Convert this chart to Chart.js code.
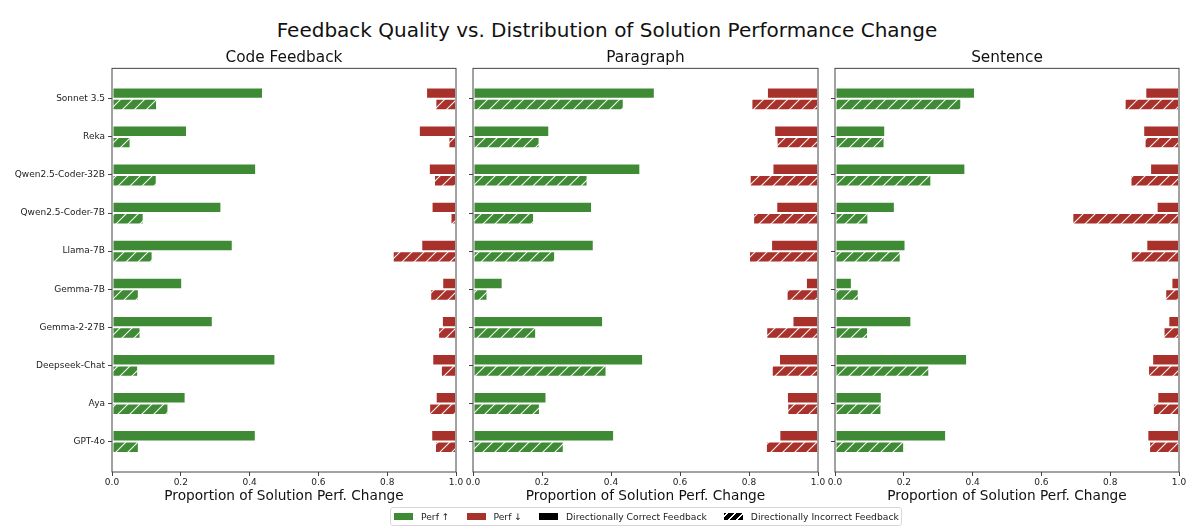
<!DOCTYPE html>
<html>
<head>
<meta charset="utf-8">
<script src="https://cdn.jsdelivr.net/npm/chart.js@4.4.1/dist/chart.umd.min.js"></script>
<style>
  body { margin: 0; background: #fff; font-family: "DejaVu Sans", sans-serif; }
  #wrap { position: relative; width: 1200px; height: 529px; overflow: hidden; }
  #title { position: absolute; left: 7px; top: 17px; width: 1200px; text-align: center; font-size: 20px; line-height: 26px; color: #111; }
  canvas { position: absolute; }
  #legend { position: absolute; left: 390px; top: 507px; width: 512px; height: 19px; border: 1px solid #d8d8d8; border-radius: 3px;
            display: flex; align-items: center; font-size: 9.2px; color: #222; box-sizing: border-box; white-space: nowrap; }
  .sw { display: inline-block; width: 19px; height: 7px; margin: 0 8px 0 0; }
  .item { display: flex; align-items: center; margin-right: 17px; }
</style>
</head>
<body>
<div id="wrap">
  <div id="title">Feedback Quality vs. Distribution of Solution Performance Change</div>
  <canvas id="c1" width="466" height="470" style="left:0px;top:40px"></canvas>
  <canvas id="c2" width="365" height="470" style="left:463px;top:40px"></canvas>
  <canvas id="c3" width="364" height="470" style="left:825px;top:40px"></canvas>
  <div id="legend">
    <span class="item" style="margin-left:3px"><span class="sw" style="background:#3f8a35"></span>Perf ↑</span>
    <span class="item"><span class="sw" style="background:#a8312b"></span>Perf ↓</span>
    <span class="item"><span class="sw" style="background:#000"></span>Directionally Correct Feedback</span>
    <span class="item" style="margin-right:0"><span class="sw" style="background:repeating-linear-gradient(-45deg,#000 0 4px,#fff 4px 5.5px)"></span>Directionally Incorrect Feedback</span>
  </div>
</div>
<script>
const models = ['Sonnet 3.5', 'Reka', 'Qwen2.5-Coder-32B', 'Qwen2.5-Coder-7B', 'Llama-7B',
                'Gemma-7B', 'Gemma-2-27B', 'Deepseek-Chat', 'Aya', 'GPT-4o'];
const xTicks = [0, 0.2, 0.4, 0.6, 0.8, 1.0];

// Code Feedback
const codeUpCorrect     = [0.439, 0.218, 0.419, 0.318, 0.351, 0.204, 0.293, 0.475, 0.214, 0.418];
const codeUpIncorrect   = [0.131, 0.054, 0.130, 0.092, 0.118, 0.078, 0.083, 0.076, 0.164, 0.078];
const codeDownCorrect   = [0.087, 0.108, 0.079, 0.071, 0.101, 0.040, 0.041, 0.069, 0.059, 0.072];
const codeDownIncorrect = [0.060, 0.022, 0.064, 0.016, 0.184, 0.075, 0.052, 0.044, 0.078, 0.061];

// Paragraph
const paraUpCorrect     = [0.527, 0.221, 0.485, 0.345, 0.350, 0.086, 0.377, 0.493, 0.213, 0.409];
const paraUpIncorrect   = [0.437, 0.193, 0.332, 0.177, 0.238, 0.042, 0.183, 0.387, 0.194, 0.263];
const paraDownCorrect   = [0.148, 0.127, 0.132, 0.121, 0.136, 0.035, 0.074, 0.113, 0.090, 0.112];
const paraDownIncorrect = [0.193, 0.120, 0.198, 0.188, 0.200, 0.091, 0.150, 0.134, 0.089, 0.151];

// Sentence
const sentUpCorrect     = [0.407, 0.146, 0.379, 0.174, 0.205, 0.049, 0.222, 0.384, 0.136, 0.323];
const sentUpIncorrect   = [0.367, 0.144, 0.280, 0.097, 0.191, 0.069, 0.096, 0.274, 0.135, 0.201];
const sentDownCorrect   = [0.098, 0.104, 0.084, 0.065, 0.095, 0.022, 0.031, 0.078, 0.063, 0.092];
const sentDownIncorrect = [0.158, 0.100, 0.141, 0.310, 0.140, 0.040, 0.045, 0.090, 0.076, 0.087];

const green = '#3f8a35';
const red = '#a8312b';

function hatch(color) {
    var c = document.createElement('canvas');
    c.width = 12; c.height = 12;
    var g = c.getContext('2d');
    g.fillStyle = color;
    g.fillRect(0, 0, 12, 12);
    g.strokeStyle = 'rgba(255,255,255,0.95)';
    g.lineWidth = 1.1;
    g.beginPath();
    g.moveTo(0, 12); g.lineTo(12, 0);
    g.moveTo(-2, 2); g.lineTo(2, -2);
    g.moveTo(10, 14); g.lineTo(14, 10);
    g.stroke();
    return g.createPattern(c, 'repeat');
}

// box around each plot area, like matplotlib spines
const spines = {
    id: 'spines',
    afterDraw(chart) {
        var a = chart.chartArea, ctx = chart.ctx;
        ctx.save();
        ctx.strokeStyle = '#444';
        ctx.lineWidth = 1;
        ctx.strokeRect(a.left, a.top, a.right - a.left, a.bottom - a.top);
        ctx.restore();
    }
};

function DrawPanel(id, title, upC, upI, downC, downI, showLabels, axisWidth) {
    var ctx = document.getElementById(id).getContext('2d');
    var bar = { borderColor: 'rgba(255,255,255,0.75)', borderWidth: 1, borderSkipped: false,
                categoryPercentage: 0.6, barPercentage: 1.0 };
    return new Chart(ctx, {
        type: 'bar',
        data: {
            datasets: [
                Object.assign({ label: 'Perf up correct', stack: 'c', backgroundColor: green,
                    data: upC.map((v, i) => ({ x: v, y: i })) }, bar),
                Object.assign({ label: 'Perf down correct', stack: 'c', backgroundColor: red,
                    data: downC.map((v, i) => ({ x: [1 - v, 1], y: i })) }, bar),
                Object.assign({ label: 'Perf up incorrect', stack: 'i', backgroundColor: hatch(green),
                    data: upI.map((v, i) => ({ x: v, y: i })) }, bar),
                Object.assign({ label: 'Perf down incorrect', stack: 'i', backgroundColor: hatch(red),
                    data: downI.map((v, i) => ({ x: [1 - v, 1], y: i })) }, bar)
            ]
        },
        options: {
            indexAxis: 'y',
            responsive: false,
            animation: false,
            layout: { padding: { left: 0, right: 10, top: 0, bottom: 0 } },
            scales: {
                x: {
                    type: 'linear', min: 0, max: 1, stacked: false, offset: false,
                    afterBuildTicks: ax => { ax.ticks = xTicks.map(v => ({ value: v })); },
                    ticks: { callback: v => v.toFixed(1), color: '#222', padding: 1,
                             font: { family: 'DejaVu Sans', size: 9 }, maxRotation: 0 },
                    grid: { drawOnChartArea: false, tickLength: 4, color: '#444', offset: false },
                    border: { display: false },
                    title: { display: true, text: 'Proportion of Solution Perf. Change', color: '#111',
                             font: { family: 'DejaVu Sans', size: 13.7 }, padding: { top: 0, bottom: 5 } },
                    afterFit: ax => { ax.height = 38; ax.paddingLeft = 0; ax.paddingRight = 0; }
                },
                y: {
                    type: 'linear', min: -0.8, max: 9.8, reverse: true, stacked: true, offset: false,
                    afterBuildTicks: ax => { ax.ticks = models.map((m, i) => ({ value: i })); },
                    ticks: { autoSkip: false, color: '#222', padding: 3,
                             callback: v => showLabels ? models[v] : '',
                             font: { family: 'DejaVu Sans', size: 9 } },
                    grid: { drawOnChartArea: false, tickLength: 4, color: '#444', offset: false },
                    border: { display: false },
                    afterFit: ax => { ax.width = axisWidth; ax.paddingTop = 0; ax.paddingBottom = 0; }
                }
            },
            plugins: {
                legend: { display: false },
                tooltip: { enabled: false },
                title: { display: true, text: title, fullSize: false, color: '#111',
                         font: { family: 'DejaVu Sans', size: 15.3, weight: 'normal' },
                         padding: { top: 9, bottom: 1 } }
            }
        },
        plugins: [spines]
    });
}

DrawPanel('c1', 'Code Feedback', codeUpCorrect, codeUpIncorrect, codeDownCorrect, codeDownIncorrect, true, 112);
DrawPanel('c2', 'Paragraph', paraUpCorrect, paraUpIncorrect, paraDownCorrect, paraDownIncorrect, false, 10);
DrawPanel('c3', 'Sentence', sentUpCorrect, sentUpIncorrect, sentDownCorrect, sentDownIncorrect, false, 10);
</script>
</body>
</html>
